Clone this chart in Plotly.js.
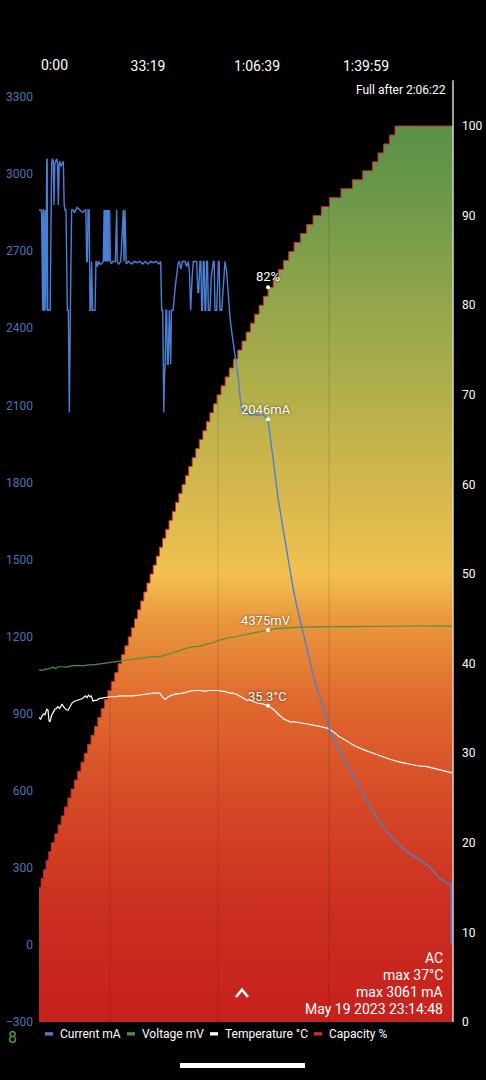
<!DOCTYPE html>
<html>
<head>
<meta charset="utf-8">
<script src="https://cdn.plot.ly/plotly-3.0.1.min.js"></script>
<style>
  html, body { margin: 0; padding: 0; background: #000; }
  #chart { width: 486px; height: 1080px; }
</style>
</head>
<body>
<div id="chart"></div>
<script>
// ---------- DATA ----------
// time in seconds since start of charge
const xTickVals = [1999, 3999, 5999];
const xTickText = ["33:19", "1:06:39", "1:39:59"];
const xEnd = 7596;
const gridTimes = [1303, 3284, 5321];

const leftTicks = [-300, 0, 300, 600, 900, 1200, 1500, 1800, 2100, 2400, 2700, 3000, 3300];
const rightTicks = [0, 10, 20, 30, 40, 50, 60, 70, 80, 90, 100];

// Capacity % (time at which each percent was reached)
const capTime = [0,40,85,130,180,230,290,350,410,470,530,590,650,710,770,830,893,955,1017,1079,1141,1203,1265,1327,1389,1451,1513,1575,1637,1695,1752,1809,1866,1923,1980,2037,2094,2151,2208,2266,2325,2385,2445,2505,2565,2625,2685,2745,2810,2875,2940,3005,3070,3135,3200,3265,3340,3415,3490,3568,3646,3724,3800,3878,3956,4038,4120,4202,4297,4392,4487,4582,4680,4795,4910,5028,5180,5330,5540,5750,5940,6120,6220,6325,6430,6532,7596];
const capPct = [15,16,17,18,19,20,21,22,23,24,25,26,27,28,29,30,31,32,33,34,35,36,37,38,39,40,41,42,43,44,45,46,47,48,49,50,51,52,53,54,55,56,57,58,59,60,61,62,63,64,65,66,67,68,69,70,71,72,73,74,75,76,77,78,79,80,81,82,83,84,85,86,87,88,89,90,91,92,93,94,95,96,97,98,99,100,100];

// Current mA
const curTime = [0,40,49,58,67,75,80,90,98,110,120,128,141,150,160,171,195,205,232,245,263,275,290,305,324,340,355,370,385,400,420,446,462,477,495,508,520,538,557,575,590,599,630,650,700,752,800,844,860,875,888,900,920,936,950,966,982,997,1010,1028,1045,1058,1070,1100,1119,1150,1180,1195,1205,1215,1225,1235,1245,1255,1262,1275,1285,1295,1310,1330,1350,1400,1425,1435,1460,1500,1547,1560,1578,1590,1600,1640,1700,1750,1800,1853,1900,1950,2000,2050,2100,2150,2200,2232,2251,2270,2290,2300,2315,2330,2343,2356,2370,2391,2405,2416,2430,2460,2500,2526,2550,2575,2600,2630,2679,2710,2740,2760,2783,2810,2832,2860,2893,2915,2930,2954,2970,2985,3000,3015,3030,3046,3060,3076,3092,3107,3138,3160,3199,3214,3229,3260,3291,3305,3321,3352,3380,3413,3443,3475,3505,3540,3566,3600,3627,3660,3690,3719,3760,3820,3880,3950,4020,4080,4150,4202,4290,4385,4470,4550,4610,4661,4740,4826,4900,4972,5060,5156,5250,5339,5450,5578,5700,5835,5980,6128,6250,6385,6560,6752,6950,7119,7250,7358,7460,7560,7561];
const curMA = [2860,2860,2840,2470,2470,2860,2860,2470,2470,2860,2470,2470,3040,3061,2470,2470,2470,2470,3040,3060,3050,2880,3040,3050,3060,3040,2880,3040,3050,3030,3040,3050,2880,2860,2860,2660,2470,2470,2072,2470,2660,2860,2860,2850,2870,2860,2850,2860,2860,2660,2660,2860,2860,2470,2470,2660,2470,2470,2470,2470,2660,2660,2640,2660,2650,2650,2660,2860,2660,2860,2660,2860,2660,2860,2660,2860,2660,2860,2660,2650,2660,2660,2860,2660,2650,2660,2860,2660,2860,2660,2650,2660,2650,2660,2655,2660,2650,2660,2650,2660,2655,2660,2650,2660,2470,2470,2072,2200,2260,2470,2470,2260,2260,2470,2260,2260,2470,2470,2560,2620,2650,2660,2630,2660,2660,2640,2660,2620,2470,2600,2660,2660,2660,2540,2540,2660,2660,2470,2470,2660,2660,2470,2470,2660,2660,2470,2470,2600,2660,2660,2470,2470,2660,2660,2470,2470,2580,2660,2620,2520,2440,2380,2340,2290,2250,2200,2130,2090,2070,2075,2060,2065,2060,2068,2055,2046,1900,1740,1630,1522,1450,1389,1310,1233,1160,1092,1025,960,900,831,780,726,680,636,575,519,480,441,400,363,335,312,285,258,245,234,0];

// Voltage mV
const voltTime = [0,60,120,160,202,260,300,360,420,514,600,700,800,900,991,1100,1200,1300,1431,1550,1650,1750,1853,1950,2100,2200,2275,2400,2550,2716,2850,2954,3050,3193,3300,3450,3600,3750,3872,4000,4100,4202,4350,4500,4789,5100,5394,5700,6018,6500,7000,7578];
const voltMV = [3930,3925,3940,3935,3950,3960,3945,3965,3965,3960,3975,3980,3975,3985,3985,3995,4005,4010,4018,4030,4045,4055,4062,4070,4080,4075,4085,4110,4140,4174,4190,4196,4215,4230,4260,4286,4300,4320,4330,4350,4365,4375,4390,4398,4408,4410,4412,4415,4418,4420,4420,4418];

// Temperature °C
const tempTime = [0,30,60,90,110,140,165,185,202,230,257,290,320,349,380,422,450,490,532,570,606,650,700,752,800,850,880,910,936,960,990,1020,1064,1100,1174,1240,1303,1400,1500,1600,1725,1850,1950,2100,2220,2260,2312,2350,2400,2500,2642,2750,2850,2954,3050,3100,3266,3400,3505,3560,3650,3817,3872,4000,4100,4202,4300,4400,4500,4606,4700,4789,4900,5050,5150,5284,5400,5500,5651,5800,5950,6128,6300,6450,6624,6800,6950,7119,7300,7450,7578];
const tempC = [34.0,33.8,34.2,34.4,34.3,34.9,34.8,33.6,33.5,34.2,34.5,34.9,35.0,35.2,35.0,35.5,35.2,34.9,34.8,35.2,35.6,35.8,35.9,36.0,36.1,36.4,36.2,36.5,36.3,36.4,35.8,35.9,35.9,36.1,36.2,36.3,36.3,36.3,36.4,36.4,36.4,36.5,36.6,36.7,36.7,36.3,36.0,36.2,36.4,36.6,36.7,36.9,37.0,37.0,36.9,37.0,37.0,36.9,36.7,36.7,36.5,35.9,35.9,35.6,35.5,35.3,34.9,34.3,33.8,33.5,33.5,33.4,33.3,33.1,33.0,32.8,32.4,31.9,31.3,30.8,30.4,30.0,29.6,29.3,29.0,28.8,28.6,28.5,28.2,28.0,27.8];

const markTime = 4202;

const legendNames = ["Current mA", "Voltage mV", "Temperature °C", "Capacity %"];
const legendColors = ["#4a80d4", "#4e8f3c", "#ffffff", "#d0302a"];

const infoLines = ["AC", "max 37°C", "max 3061 mA", "May 19 2023 23:14:48"];
const fullAfter = "Full after 2:06:22";

// ---------- HELPERS ----------
function valueAt(times, vals, t) {
  const i = times.indexOf(t);
  return vals[i];
}
const markCur = valueAt(curTime, curMA, markTime);
const markVolt = valueAt(voltTime, voltMV, markTime);
const markTemp = valueAt(tempTime, tempC, markTime);
const markCap = valueAt(capTime, capPct, markTime);

const FONT = "Roboto, 'Noto Sans', sans-serif";
const CAPTOP = 103.24;

// axes: y = capacity (right, base), y2 = voltage (hidden), y3 = temperature (hidden), y4 = current (left)
const traces = [
  {
    x: capTime, y: capPct, yaxis: "y", type: "scatter", mode: "lines",
    line: { shape: "hv", color: "#c9302a", width: 1 },
    fill: "tozeroy",
    fillgradient: {
      type: "vertical", start: 0, stop: 100,
      colorscale: [
        [0.0, "#c5211d"], [0.12, "#cb2d20"], [0.25, "#d64a27"], [0.36, "#e06a2e"],
        [0.45, "#ea983d"], [0.5, "#f1c14f"], [0.58, "#d9b94d"], [0.69, "#b6b04b"],
        [0.8, "#93a64b"], [0.92, "#6d984a"], [1.0, "#5a9047"]
      ]
    },
    hoverinfo: "skip", showlegend: false
  },
  {
    x: voltTime, y: voltMV, yaxis: "y2", type: "scatter", mode: "lines",
    line: { color: "#4e8f3c", width: 1.2 }, hoverinfo: "skip", showlegend: false
  },
  {
    x: tempTime, y: tempC, yaxis: "y3", type: "scatter", mode: "lines",
    line: { color: "#ffffff", width: 1.2 }, hoverinfo: "skip", showlegend: false
  },
  {
    x: curTime, y: curMA, yaxis: "y4", type: "scatter", mode: "lines",
    line: { color: "#4a80d4", width: 1.4 }, hoverinfo: "skip", showlegend: false
  },
  { x: [markTime], y: [markCap], yaxis: "y", mode: "markers", marker: { color: "#fff", size: 4 }, showlegend: false, hoverinfo: "skip" },
  { x: [markTime], y: [markVolt], yaxis: "y2", mode: "markers", marker: { color: "#fff", size: 4 }, showlegend: false, hoverinfo: "skip" },
  { x: [markTime], y: [markTemp], yaxis: "y3", mode: "markers", marker: { color: "#fff", size: 4 }, showlegend: false, hoverinfo: "skip" },
  { x: [markTime], y: [markCur], yaxis: "y4", mode: "markers", marker: { color: "#fff", size: 4 }, showlegend: false, hoverinfo: "skip" }
];

// ---------- ANNOTATIONS ----------
const shadow = "0px 0px 3px rgba(0,0,0,0.7)";
const annotations = [
  { xref: "x", yref: "paper", x: 0, y: 1.0346, text: "0:00", showarrow: false, xanchor: "left", yanchor: "middle",
    font: { family: FONT, size: 14, color: "#fff" } },
  { xref: "paper", yref: "paper", x: 0.988, y: 1.0075, text: fullAfter, showarrow: false, xanchor: "right", yanchor: "middle",
    font: { family: FONT, size: 12, color: "#fff" } },
  { xref: "x", yref: "y", x: markTime, y: markCap, text: markCap + "%", showarrow: false, yshift: 11, yanchor: "middle",
    font: { family: FONT, size: 13, color: "#fff", shadow: shadow } },
  { xref: "x", yref: "y4", x: markTime, y: markCur, text: markCur + "mA", showarrow: false, yshift: 10, xshift: -2, yanchor: "middle",
    font: { family: FONT, size: 13, color: "#fff", shadow: shadow } },
  { xref: "x", yref: "y2", x: markTime, y: markVolt, text: markVolt + "mV", showarrow: false, yshift: 10, xshift: -2, yanchor: "middle",
    font: { family: FONT, size: 13, color: "#fff", shadow: shadow } },
  { xref: "x", yref: "y3", x: markTime, y: markTemp, text: markTemp.toFixed(1) + "°C", showarrow: false, yshift: 9, xshift: -1, yanchor: "middle",
    font: { family: FONT, size: 13, color: "#fff", shadow: shadow } },
  { xref: "paper", yref: "paper", x: -0.065, y: -0.0165, text: "8", showarrow: false, xanchor: "center", yanchor: "middle",
    font: { family: FONT, size: 16, color: "#5c9e4e" } }
];
const infoY = [958, 975, 992, 1009];
infoLines.forEach((t, i) => {
  annotations.push({ xref: "paper", yref: "paper", x: 0.981, y: (1022 - infoY[i]) / 925, text: t, showarrow: false,
    xanchor: "right", yanchor: "middle", font: { family: FONT, size: 14, color: "#fff" } });
});

// legend drawn as text + swatches
const legTextX = [60, 142, 225, 329];
const shapes = [];
legendNames.forEach((n, i) => {
  annotations.push({ xref: "paper", yref: "paper", x: (legTextX[i] - 39) / 414, y: -0.013, text: n, showarrow: false,
    xanchor: "left", yanchor: "middle", xshift: -2, font: { family: FONT, size: 12, color: "#fff" } });
  shapes.push({ type: "rect", xref: "paper", yref: "paper", layer: "above",
    x0: (legTextX[i] - 15 - 39) / 414, x1: (legTextX[i] - 7 - 39) / 414, y0: -0.0146, y1: -0.0110,
    fillcolor: legendColors[i], line: { width: 0 } });
});

// vertical grid lines (visible only over the fill)
gridTimes.forEach(t => {
  shapes.push({ type: "line", xref: "x", yref: "paper", x0: t, x1: t, y0: 0, y1: 1, layer: "above",
    line: { color: "rgba(0,0,0,0.14)", width: 1 } });
});
// right edge line
shapes.push({ type: "line", xref: "paper", yref: "paper", x0: 1, x1: 1, y0: 0, y1: 1.018, layer: "above",
  line: { color: "#d4d4d4", width: 1.5 } });
// chevron
shapes.push({ type: "path", xref: "paper", yref: "paper", layer: "above",
  path: "M 0.4758 0.0270 L 0.4903 0.0350 L 0.5048 0.0270", line: { color: "#fff", width: 2.5 } });
// home indicator pill
shapes.push({ type: "rect", xref: "paper", yref: "paper", x0: 0.3406, x1: 0.6425, y0: -0.0497, y1: -0.0443,
  fillcolor: "#ffffff", line: { width: 0 } });

// ---------- LAYOUT ----------
const layout = {
  width: 486, height: 1080,
  paper_bgcolor: "#000", plot_bgcolor: "#000",
  margin: { l: 39, r: 33, t: 97, b: 58, pad: 0 },
  showlegend: false,
  font: { family: FONT, color: "#fff" },
  xaxis: {
    range: [0, xEnd], side: "top", tickvals: xTickVals, ticktext: xTickText,
    showgrid: false, zeroline: false, showline: false, ticks: "",
    tickfont: { family: FONT, size: 14, color: "#fff" }, ticklabelstandoff: 22, fixedrange: true
  },
  yaxis: {
    side: "right", range: [0, CAPTOP], tickvals: rightTicks, showgrid: false, zeroline: false,
    showline: false, ticks: "", tickfont: { family: FONT, size: 12, color: "#fff" }, ticklabelstandoff: 8, fixedrange: true
  },
  yaxis2: { overlaying: "y", range: [0, CAPTOP * 100], visible: false, fixedrange: true },
  yaxis3: { overlaying: "y", range: [0, CAPTOP], visible: false, fixedrange: true },
  yaxis4: {
    overlaying: "y", side: "left", range: [-300, 3300], tickvals: leftTicks, showgrid: false, zeroline: false, showline: false, ticks: "",
    tickfont: { family: FONT, size: 12, color: "#4d73b5" }, ticklabelstandoff: 5, fixedrange: true
  },
  annotations: annotations,
  shapes: shapes
};

Plotly.newPlot("chart", traces, layout, { staticPlot: true, displayModeBar: false });
</script>
</body>
</html>
